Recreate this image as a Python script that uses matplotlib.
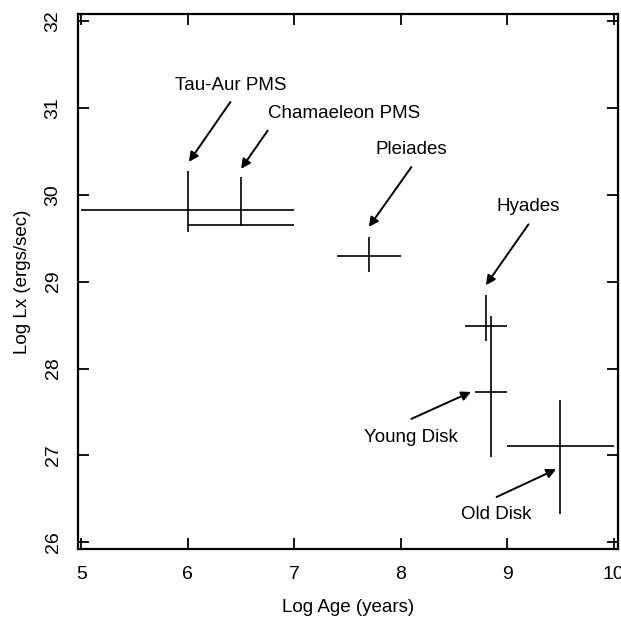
import numpy as np
import matplotlib
matplotlib.use('Agg')
import matplotlib.pyplot as plt

plt.rcParams['font.family'] = ['Liberation Sans', 'DejaVu Sans']

# cluster / population data (log age, log Lx) with ranges
names  = ['Tau-Aur PMS', 'Chamaeleon PMS', 'Pleiades', 'Hyades', 'Young Disk', 'Old Disk']
log_age = np.array([6.0, 6.5, 7.7, 8.8, 8.85, 9.5])
age_lo  = np.array([5.0, 6.0, 7.4, 8.6, 8.7, 9.0])
age_hi  = np.array([7.0, 7.0, 8.0, 9.0, 9.0, 10.0])
log_lx  = np.array([29.82, 29.65, 29.29, 28.49, 27.73, 27.11])
lx_lo   = np.array([29.57, 29.64, 29.11, 28.32, 26.98, 26.32])
lx_hi   = np.array([30.28, 30.21, 29.51, 28.85, 28.60, 27.64])

# label positions and arrow tails/heads (data coords)
label_xy = [(6.40, 31.26), (7.47, 30.94), (8.10, 30.52), (9.20, 29.86), (8.10, 27.21), (8.90, 26.32)]
arrow_tail = [(6.40, 31.07), (6.75, 30.74), (8.10, 30.32), (9.20, 29.66), (8.10, 27.42), (8.90, 26.52)]
arrow_head = [(6.01, 30.38), (6.50, 30.30), (7.70, 29.63), (8.80, 28.96), (8.66, 27.73), (9.46, 26.84)]

xticks = [5, 6, 7, 8, 9, 10]
yticks = [26, 27, 28, 29, 30, 31, 32]

fig = plt.figure(figsize=(6.21, 6.17), dpi=100)
ax = fig.add_axes([0.126, 0.110, 0.869, 0.867])

ax.errorbar(log_age, log_lx,
            xerr=[log_age - age_lo, age_hi - log_age],
            yerr=[log_lx - lx_lo, lx_hi - log_lx],
            fmt='none', ecolor='black', elinewidth=1.2, capsize=0)

for name, (tx, ty), tail, head in zip(names, label_xy, arrow_tail, arrow_head):
    ax.text(tx, ty, name, ha='center', va='center', fontsize=13.5)
    ax.annotate('', xy=head, xytext=tail,
                arrowprops=dict(arrowstyle='-|>', color='black', lw=1.4,
                                mutation_scale=14, shrinkA=0, shrinkB=0))

ax.set_xlim(4.97, 10.04)
ax.set_ylim(25.92, 32.08)
ax.set_xticks(xticks)
ax.set_yticks(yticks)
ax.tick_params(direction='in', length=8, width=1.3, top=True, right=True,
               labelsize=14)
ax.tick_params(axis='x', pad=12)
ax.tick_params(axis='y', pad=12, labelrotation=90)
for lab in ax.get_yticklabels():
    lab.set_va('center')

for sp in ax.spines.values():
    sp.set_linewidth(1.6)

ax.set_xlabel('Log Age (years)', fontsize=13.5, labelpad=12)
ax.set_ylabel('Log Lx (ergs/sec)', fontsize=13.5, labelpad=10)

fig.savefig('out.png', dpi=100)
